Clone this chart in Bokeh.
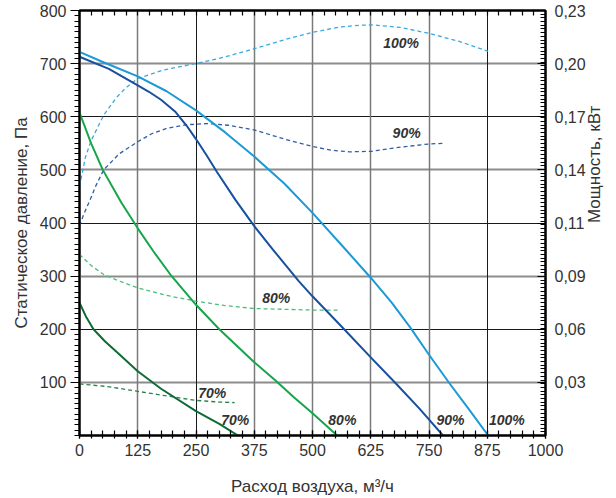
import numpy as np
from bokeh.plotting import figure
from bokeh.models import Range1d, LinearAxis, FixedTicker, Grid
from bokeh.core.properties import value
from bokeh.embed import file_html
from bokeh.resources import INLINE

# ---------------- data ----------------
# pressure curves (Pa vs m3/h)
p100_x = [0, 50, 125, 187, 250, 312, 375, 440, 500, 570, 625, 670, 710, 750, 795, 835, 877]
p100_y = [722, 703, 676, 648, 612, 571, 525, 474, 419, 351, 297, 250, 203, 152, 97, 50, 0]
p90_x = [0, 63, 125, 149, 175, 205, 230, 250, 273, 295, 335, 375, 415, 470, 500, 570, 625, 680, 730, 780]
p90_y = [713, 690, 659, 647, 632, 610, 583, 558, 527, 496, 443, 394, 350, 291, 262, 198, 147, 97, 50, 0]
p80_x = [0, 25, 50, 90, 125, 160, 195, 250, 300, 375, 420, 460, 500, 553]
p80_y = [608, 550, 500, 438, 390, 345, 303, 246, 200, 138, 104, 72, 42, 0]
p70_x = [0, 15, 30, 55, 80, 125, 175, 250, 300, 340]
p70_y = [250, 222, 200, 177, 157, 121, 88, 46, 22, 0]

# power curves (kW vs m3/h)
w100_x = [0, 13, 25, 52, 80, 100, 125, 180, 250, 310, 375, 440, 500, 560, 600, 630, 690, 750, 815, 877]
w100_y = [0.1348, 0.1509, 0.1596, 0.1734, 0.1831, 0.1883, 0.1932, 0.1978, 0.2013, 0.2047,
          0.2093, 0.2142, 0.2182, 0.2211, 0.2220, 0.2222, 0.2208, 0.2176, 0.2133, 0.2079]
w90_x = [0, 10, 23, 35, 52, 85, 125, 155, 187, 230, 273, 320, 376, 440, 500, 540, 579, 627, 690, 751, 782]
w90_y = [0.1136, 0.1202, 0.1277, 0.1351, 0.1438, 0.1524, 0.1590, 0.1633, 0.1662, 0.1682, 0.1688,
         0.1679, 0.1653, 0.1604, 0.1564, 0.1544, 0.1535, 0.1538, 0.1561, 0.1578, 0.1581]
w80_x = [0, 25, 52, 90, 125, 185, 250, 310, 375, 500, 558]
w80_y = [0.0980, 0.0920, 0.0871, 0.0831, 0.0799, 0.0759, 0.0727, 0.0704, 0.0687, 0.0679, 0.0679]
w70_x = [0, 60, 125, 190, 250, 300, 333]
w70_y = [0.0279, 0.0265, 0.0239, 0.0213, 0.0190, 0.0181, 0.0178]

# axis ticks
x_ticks = [0, 125, 250, 375, 500, 625, 750, 875, 1000]
y_ticks = [100, 200, 300, 400, 500, 600, 700, 800]
power_labels = ["0,03", "0,06", "0,09", "0,11", "0,14", "0,17", "0,20", "0,23"]
power_max = 0.23

# curve labels
label_text = ["100%", "90%", "80%", "70%", "70%", "80%", "90%", "100%"]
label_x = [690, 702, 422, 285, 334, 564, 796, 917]
label_y = [738, 569, 258, 80, 30, 30, 30, 30]

# ---------------- style ----------------
FONT = "Liberation Sans"
TXT = "#333333"
c100, c90, c80, c70 = "#1b9ad7", "#17509e", "#16a54b", "#0d6b35"
d100, d90, d80, d70 = "#3aa9e0", "#2e5ea8", "#4dbb7a", "#2b8050"

p = figure(width=616, height=498, output_backend="svg", toolbar_location=None,
           x_range=Range1d(0, 1000), y_range=Range1d(0, 800),
           min_border_left=79, min_border_right=69, min_border_top=10, min_border_bottom=61,
           x_axis_location=None, y_axis_location=None)
p.extra_y_ranges = {"power": Range1d(0, power_max)}
p.xgrid.visible = False
p.ygrid.visible = False
p.outline_line_color = "black"
p.outline_line_width = 2
p.background_fill_color = "white"
p.border_fill_color = "white"

# grids
for ticks, col, w in [([100, 300, 500, 700], "#8c8c8c", 1.8), ([200, 400, 600], "#1a1a1a", 1.0)]:
    p.add_layout(Grid(dimension=1, ticker=FixedTicker(ticks=ticks), grid_line_color=col, grid_line_width=w))
for ticks, col, w in [([125, 375, 500, 625, 750], "#7a7a7a", 1.5), ([250, 875], "#1a1a1a", 1.0)]:
    p.add_layout(Grid(dimension=0, ticker=FixedTicker(ticks=ticks), grid_line_color=col, grid_line_width=w))

def style_axis(ax):
    ax.axis_line_color = "black"
    ax.axis_line_width = 2
    ax.major_tick_line_color = "black"
    ax.minor_tick_line_color = "black"
    ax.major_tick_line_width = 1.2
    ax.minor_tick_line_width = 1.2
    ax.major_label_text_font = FONT
    ax.major_label_text_font_size = "16px"
    ax.major_label_text_color = TXT
    ax.axis_label_text_font = FONT
    ax.axis_label_text_font_size = "17px"
    ax.axis_label_text_font_style = "normal"
    ax.axis_label_text_color = TXT

# bottom axis
xb = LinearAxis(ticker=FixedTicker(ticks=x_ticks, minor_ticks=list(range(0, 1001, 25))),
                axis_label="Расход воздуха, м³/ч")
style_axis(xb)
xb.major_tick_in, xb.major_tick_out = 5, 3
xb.minor_tick_in, xb.minor_tick_out = 5, 3
xb.major_label_standoff = 5
xb.axis_label_standoff = 18
p.add_layout(xb, "below")

# top axis (minor ticks only)
xt = LinearAxis(ticker=FixedTicker(ticks=[], minor_ticks=list(range(0, 1001, 25))))
style_axis(xt)
xt.minor_tick_in, xt.minor_tick_out = 5, 0
xt.major_label_standoff = 0
p.add_layout(xt, "above")

# left axis
yl = LinearAxis(ticker=FixedTicker(ticks=y_ticks, minor_ticks=list(range(0, 801, 10))),
                axis_label="Статическое давление, Па")
style_axis(yl)
yl.major_tick_in, yl.major_tick_out = 0, 9
yl.minor_tick_in, yl.minor_tick_out = 0, 5
yl.major_label_standoff = 4
yl.axis_label_standoff = 6
p.add_layout(yl, "left")

# right axis (power): ticks and tick labels
power_ticks = [power_max * k / len(power_labels) for k in range(1, len(power_labels) + 1)]
yr = LinearAxis(y_range_name="power",
                ticker=FixedTicker(ticks=power_ticks, minor_ticks=list(np.arange(0, power_max + 1e-9, 0.002))))
style_axis(yr)
yr.major_label_overrides = {t: s for t, s in zip(power_ticks, power_labels)}
yr.major_tick_in, yr.major_tick_out = 8, 0
yr.minor_tick_in, yr.minor_tick_out = 5, 0
yr.major_label_standoff = 9
p.add_layout(yr, "right")

# second right axis carrying only the title, reading bottom-to-top
yr2 = LinearAxis(y_range_name="power", ticker=FixedTicker(ticks=[]), axis_label="Мощность, кВт")
style_axis(yr2)
yr2.axis_line_color = None
yr2.major_tick_in, yr2.major_tick_out = 0, 0
yr2.minor_tick_in, yr2.minor_tick_out = 0, 0
yr2.major_label_standoff = 0
yr2.axis_label_standoff = 6
yr2.axis_label_orientation = np.pi / 2
p.add_layout(yr2, "right")

# power (dashed) curves
for xs, ys, col in [(w100_x, w100_y, d100), (w90_x, w90_y, d90), (w80_x, w80_y, d80), (w70_x, w70_y, d70)]:
    p.line(xs, ys, y_range_name="power", line_color=col, line_width=1.3, line_dash="4 3")

# pressure (solid) curves
for xs, ys, col in [(p100_x, p100_y, c100), (p90_x, p90_y, c90), (p80_x, p80_y, c80), (p70_x, p70_y, c70)]:
    p.line(xs, ys, line_color=col, line_width=2, line_join="round")

p.text(x=label_x, y=label_y, text=label_text, text_font=value(FONT), text_font_size="14px",
       text_font_style="bold italic", text_color=TXT, text_align="center", text_baseline="middle")

open("out.html", "w").write(file_html(p, INLINE))
